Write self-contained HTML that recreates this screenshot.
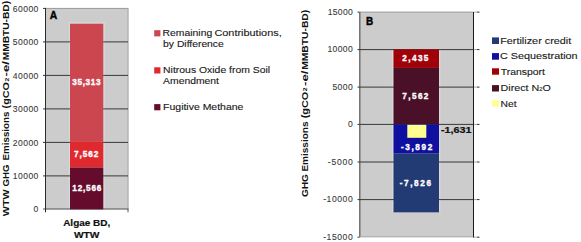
<!DOCTYPE html>
<html><head><meta charset="utf-8">
<style>
html,body{margin:0;padding:0;background:#fff;width:581px;height:242px;overflow:hidden}
svg{display:block}
text{font-family:"Liberation Sans",sans-serif}
.t{font-size:8.6px;fill:#1a1a1a;stroke:#1a1a1a;stroke-width:0.12px}
.tb{font-size:8px;font-weight:bold;fill:#111}
.w{font-size:8.2px;font-weight:bold;fill:#fff;stroke:#fff;stroke-width:0.35px}
.k{font-size:8.6px;fill:#3a3a3a;stroke:#3a3a3a;stroke-width:0.1px}
.g{stroke:#383838;stroke-width:1;fill:none}
</style></head>
<body>
<svg width="581" height="242" viewBox="0 0 581 242">
<!-- ================= CHART A ================= -->
<rect x="45" y="8.4" width="83.4" height="200.9" fill="#cccccc"/>
<rect x="68.8" y="22.3" width="36" height="187" fill="#d8d8d8"/>
<!-- right/top border -->
<line x1="45" y1="8.4" x2="128.5" y2="8.4" stroke="#999" stroke-width="1"/>
<line x1="128" y1="8.4" x2="128" y2="209.3" stroke="#a8a8a8" stroke-width="1"/>
<!-- gridlines -->
<g class="g">
<line x1="43" y1="8.4" x2="46" y2="8.4"/>
<line x1="43" y1="41.9" x2="128" y2="41.9"/>
<line x1="43" y1="75.4" x2="128" y2="75.4"/>
<line x1="43" y1="108.9" x2="128" y2="108.9"/>
<line x1="43" y1="142.4" x2="128" y2="142.4"/>
<line x1="43" y1="175.9" x2="128" y2="175.9"/>
</g>
<line x1="43" y1="209" x2="128.5" y2="209" stroke="#555" stroke-width="1"/>
<line x1="45.5" y1="8" x2="45.5" y2="212.3" stroke="#2a2a2a" stroke-width="1"/>
<line x1="128" y1="209" x2="128" y2="212.3" stroke="#555" stroke-width="1"/>
<!-- bars -->
<rect x="70" y="23.7" width="33.3" height="118.2" fill="#cc4650"/>
<rect x="70" y="141.9" width="33.3" height="25.7" fill="#e0282f"/>
<rect x="70" y="167.6" width="33.3" height="41.7" fill="#650c2c"/>
<!-- data labels -->
<text class="w" x="72.2" y="84.9" textLength="28.4" lengthAdjust="spacing">35,313</text>
<text class="w" x="74.1" y="157.3" textLength="24.3" lengthAdjust="spacing">7,562</text>
<text class="w" x="72.3" y="191.4" textLength="29.1" lengthAdjust="spacing">12,566</text>
<!-- A -->
<text x="49.7" y="19.4" style="font-size:10.6px;font-weight:bold;fill:#000;stroke:#000;stroke-width:0.35px" textLength="7.5" lengthAdjust="spacingAndGlyphs">A</text>
<!-- y tick labels -->
<g class="k" text-anchor="end">
<text x="38.4" y="11.9" textLength="25.6" lengthAdjust="spacing">60000</text>
<text x="38.4" y="45.4" textLength="25.6" lengthAdjust="spacing">50000</text>
<text x="38.4" y="78.9" textLength="25.6" lengthAdjust="spacing">40000</text>
<text x="38.4" y="112.4" textLength="25.6" lengthAdjust="spacing">30000</text>
<text x="38.4" y="145.9" textLength="25.6" lengthAdjust="spacing">20000</text>
<text x="38.4" y="179.4" textLength="25.6" lengthAdjust="spacing">10000</text>
<text x="38.3" y="212">0</text>
</g>
<!-- y title -->
<g transform="translate(9.2,216.6) rotate(-90)" style="font-size:8.6px;font-weight:bold;fill:#111">
<text x="0.40" y="0" textLength="26.80" lengthAdjust="spacingAndGlyphs">WTW</text>
<text x="30.10" y="0" textLength="21.90" lengthAdjust="spacingAndGlyphs">GHG</text>
<text x="56.20" y="0" textLength="48.80" lengthAdjust="spacingAndGlyphs">Emissions</text>
<text x="108.20" y="0" textLength="26.40" lengthAdjust="spacingAndGlyphs">(gCO</text>
<text x="135.00" y="-0.6" style="font-size:5.16px" textLength="3.80" lengthAdjust="spacingAndGlyphs">2</text>
<text x="140.20" y="0" textLength="15.40" lengthAdjust="spacingAndGlyphs">-e/</text>
<text x="156.30" y="0" textLength="59.40" lengthAdjust="spacingAndGlyphs">MMBTU-BD)</text>
</g>
<!-- category -->
<text class="tb" x="63.2" y="226.3" style="font-size:9.3px;stroke:#111;stroke-width:0.2px" textLength="47" lengthAdjust="spacingAndGlyphs">Algae BD,</text>
<text class="tb" x="73.9" y="238.1" style="font-size:9.3px;stroke:#111;stroke-width:0.2px" textLength="25.6" lengthAdjust="spacingAndGlyphs">WTW</text>
<!-- legend A -->
<rect x="154.2" y="30.2" width="6.2" height="6.2" fill="#cc4650"/>
<rect x="154.2" y="67.3" width="6.2" height="6.2" fill="#e0282f"/>
<rect x="154.2" y="104.1" width="6.2" height="6.2" fill="#650c2c"/>
<g class="t">
<text x="162.6" y="35.9" textLength="49.6" lengthAdjust="spacingAndGlyphs">Remaining</text>
<text x="214.4" y="35.9" textLength="67.3" lengthAdjust="spacingAndGlyphs">Contributions,</text>
<text x="163.1" y="47.1" textLength="60.7" lengthAdjust="spacingAndGlyphs">by Difference</text>
<text x="163.1" y="73" textLength="107.1" lengthAdjust="spacingAndGlyphs">Nitrous Oxide from Soil</text>
<text x="163.1" y="83.8" textLength="55.9" lengthAdjust="spacingAndGlyphs">Amendment</text>
<text x="163.1" y="109.9" textLength="80.3" lengthAdjust="spacingAndGlyphs">Fugitive Methane</text>
</g>

<!-- ================= CHART B ================= -->
<rect x="359.5" y="12.1" width="114" height="225" fill="#cccccc"/>
<rect x="391.9" y="49.4" width="1.5" height="162.9" fill="#d8d8d8"/>
<rect x="438.9" y="49.4" width="1.5" height="162.9" fill="#d8d8d8"/>
<line x1="359.5" y1="12.1" x2="473.5" y2="12.1" stroke="#999" stroke-width="1"/>
<line x1="359.8" y1="12.1" x2="359.8" y2="237.2" stroke="#707070" stroke-width="1.5"/>
<line x1="359.5" y1="236.8" x2="473.5" y2="236.8" stroke="#aaa" stroke-width="1"/>
<g class="g">
<line x1="357.5" y1="12.1" x2="359.5" y2="12.1"/>
<line x1="357.5" y1="49.6" x2="473.5" y2="49.6"/>
<line x1="357.5" y1="87.1" x2="473.5" y2="87.1"/>
<line x1="357.5" y1="124.4" x2="473.5" y2="124.4"/>
<line x1="357.5" y1="162" x2="473.5" y2="162"/>
<line x1="357.5" y1="199.6" x2="473.5" y2="199.6"/>
<line x1="357.5" y1="237.2" x2="359.5" y2="237.2"/>
</g>
<line x1="473.5" y1="12" x2="473.5" y2="237.5" stroke="#1a1a1a" stroke-width="1"/>
<g stroke-width="1">
<line x1="474" y1="12.1" x2="477" y2="12.1" stroke="#aaa"/><line x1="477" y1="12.1" x2="479.5" y2="12.1" stroke="#333"/>
<line x1="474" y1="49.6" x2="477" y2="49.6" stroke="#aaa"/><line x1="477" y1="49.6" x2="479.5" y2="49.6" stroke="#333"/>
<line x1="474" y1="87.1" x2="477" y2="87.1" stroke="#aaa"/><line x1="477" y1="87.1" x2="479.5" y2="87.1" stroke="#333"/>
<line x1="474" y1="124.4" x2="477" y2="124.4" stroke="#aaa"/><line x1="477" y1="124.4" x2="479.5" y2="124.4" stroke="#333"/>
<line x1="474" y1="162" x2="477" y2="162" stroke="#aaa"/><line x1="477" y1="162" x2="479.5" y2="162" stroke="#333"/>
<line x1="474" y1="199.6" x2="477" y2="199.6" stroke="#aaa"/><line x1="477" y1="199.6" x2="479.5" y2="199.6" stroke="#333"/>
<line x1="474" y1="237.2" x2="477" y2="237.2" stroke="#aaa"/><line x1="477" y1="237.2" x2="479.5" y2="237.2" stroke="#333"/>
</g>
<!-- bars -->
<rect x="393.5" y="49.4" width="45.5" height="18.5" fill="#a00008"/>
<rect x="393.5" y="67.9" width="45.5" height="56.5" fill="#4a1028"/>
<rect x="393.5" y="124.4" width="45.5" height="29.2" fill="#1010a0"/>
<rect x="393.5" y="153.6" width="45.5" height="58.7" fill="#233b74"/>
<rect x="407.3" y="124.8" width="19" height="13" fill="#ffff90"/>
<!-- labels -->
<text class="w" x="402.3" y="61" textLength="26.1" lengthAdjust="spacing">2,435</text>
<text class="w" x="402.3" y="99" textLength="26.1" lengthAdjust="spacing">7,562</text>
<text class="w" x="401" y="150.2" textLength="31.2" lengthAdjust="spacing">-3,892</text>
<text class="w" x="399.7" y="185.5" textLength="31.3" lengthAdjust="spacing">-7,826</text>
<text class="w" x="441" y="133.4" style="fill:#111;stroke:#111;stroke-width:0.2px" textLength="30.6" lengthAdjust="spacingAndGlyphs">-1,631</text>
<text x="366.1" y="24.8" style="font-size:10.8px;font-weight:bold;fill:#000;stroke:#000;stroke-width:0.4px" textLength="7.2" lengthAdjust="spacingAndGlyphs">B</text>
<g class="k" text-anchor="end">
<text x="352.7" y="14.9" textLength="24.9" lengthAdjust="spacing">15000</text>
<text x="352.7" y="52.4" textLength="25.3" lengthAdjust="spacing">10000</text>
<text x="352.7" y="89.9" textLength="20.3" lengthAdjust="spacing">5000</text>
<text x="352.7" y="127.2">0</text>
<text x="352.7" y="164.8" textLength="24.9" lengthAdjust="spacing">-5000</text>
<text x="352.7" y="202.4" textLength="29.5" lengthAdjust="spacing">-10000</text>
<text x="352.7" y="239.6" textLength="29.5" lengthAdjust="spacing">-15000</text>
</g>
<g transform="translate(307.8,197.5) rotate(-90)" style="font-size:9.3px;font-weight:bold;fill:#111">
<text x="0.40" y="0" textLength="23.10" lengthAdjust="spacingAndGlyphs">GHG</text>
<text x="25.90" y="0" textLength="50.20" lengthAdjust="spacingAndGlyphs">Emissions</text>
<text x="79.21" y="0" textLength="26.64" lengthAdjust="spacingAndGlyphs">(gCO</text>
<text x="106.26" y="-0.7" style="font-size:5.58px" textLength="3.83" lengthAdjust="spacingAndGlyphs">2</text>
<text x="111.51" y="0" textLength="15.54" lengthAdjust="spacingAndGlyphs">-e/</text>
<text x="127.76" y="0" textLength="59.94" lengthAdjust="spacingAndGlyphs">MMBTU-BD)</text>
</g>
<!-- legend B -->
<rect x="492" y="37.4" width="7" height="6.6" fill="#233b74"/>
<rect x="492" y="53.1" width="7" height="6.6" fill="#1010a0"/>
<rect x="492" y="68.3" width="7" height="6.4" fill="#a00008"/>
<rect x="492" y="85.1" width="7" height="6.4" fill="#4a1028"/>
<rect x="492" y="100.2" width="7" height="6.4" fill="#ffff90"/>
<g class="t" style="font-size:9.2px">
<text x="500.2" y="43.6" textLength="71.1" lengthAdjust="spacingAndGlyphs">Fertilizer credit</text>
<text x="500" y="59.4" textLength="77.6" lengthAdjust="spacingAndGlyphs">C Sequestration</text>
<text x="500.7" y="74.5" textLength="44.3" lengthAdjust="spacingAndGlyphs">Transport</text>
<text x="500.6" y="91.4" textLength="50.2" lengthAdjust="spacingAndGlyphs">Direct N<tspan style="font-size:4.8px" dy="-0.2">2</tspan><tspan dy="0.2">O</tspan></text>
<text x="500.6" y="106.5" textLength="16.1" lengthAdjust="spacingAndGlyphs">Net</text>
</g>
</svg>
</body></html>
